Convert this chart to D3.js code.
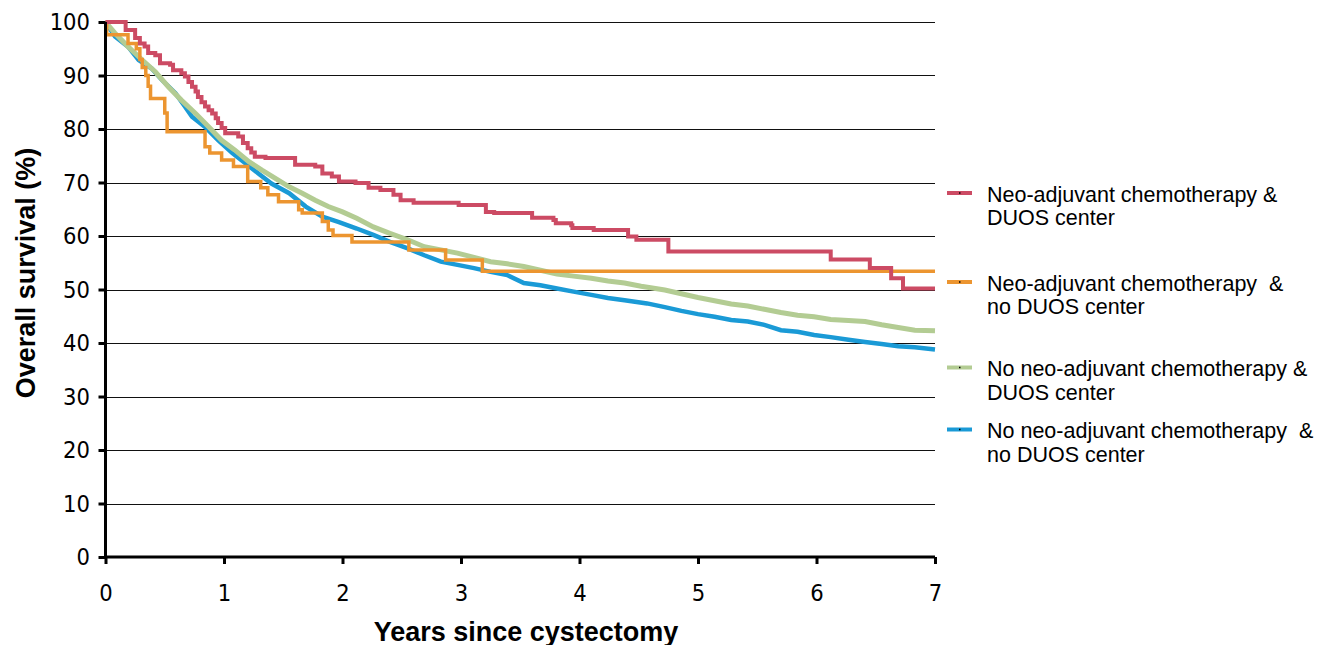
<!DOCTYPE html>
<html>
<head>
<meta charset="utf-8">
<script src="https://cdn.jsdelivr.net/npm/d3@7"></script>
<style>
  body { margin: 0; background: #fff; }
  svg { display: block; }
</style>
</head>
<body>
<svg id="chart" width="1330" height="645"></svg>
<script>
// ---- data ----
const years = [0, 1, 2, 3, 4, 5, 6, 7];
const survivalTicks = [0, 10, 20, 30, 40, 50, 60, 70, 80, 90, 100];

const seriesNames = [
    ["Neo-adjuvant chemotherapy &", "DUOS center"],
    ["Neo-adjuvant chemotherapy  &", "no DUOS center"],
    ["No neo-adjuvant chemotherapy &", "DUOS center"],
    ["No neo-adjuvant chemotherapy  &", "no DUOS center"]
];
const seriesColors = ["#cc4b64", "#ec9530", "#b3cc93", "#1a9ad6"];

// [years, survival %]
const neoDuos = [
    [0, 100], [0.17, 98.5], [0.25, 97], [0.29, 96], [0.33, 95.4], [0.36, 94.2],
    [0.42, 93.8], [0.46, 92.3], [0.545, 92], [0.57, 91], [0.64, 90.4], [0.67, 89.8],
    [0.7, 88.8], [0.73, 87.9], [0.76, 87], [0.78, 86], [0.81, 85], [0.84, 84.2],
    [0.87, 83.5], [0.9, 82.9], [0.93, 82], [0.95, 81.1], [0.98, 80.2], [1.01, 79.2],
    [1.12, 78.6], [1.16, 77.4], [1.2, 76.4], [1.23, 75.6], [1.26, 74.8], [1.35, 74.6],
    [1.6, 73.3], [1.77, 73], [1.83, 71.7], [1.91, 71.1], [1.97, 70.2], [2.11, 69.9],
    [2.22, 69], [2.32, 68.6], [2.43, 67.7], [2.49, 66.7], [2.6, 66.2], [2.98, 65.8],
    [3.21, 64.5], [3.28, 64.3], [3.6, 63.4], [3.78, 63], [3.8, 62.4], [3.93, 62],
    [3.94, 61.5], [4.12, 61.1], [4.41, 59.9], [4.48, 59.3], [4.75, 57.1], [6.12, 55.6],
    [6.45, 54], [6.63, 52.1], [6.73, 50.2], [7, 50.2]
];

const neoNoDuos = [
    [0, 100], [0.01, 97.6], [0.19, 96], [0.26, 95], [0.29, 93], [0.31, 91.5],
    [0.34, 90], [0.36, 88], [0.38, 85.7], [0.5, 83], [0.52, 79.5], [0.84, 76.7],
    [0.88, 75.5], [0.98, 74.2], [1.08, 73], [1.2, 70.2], [1.31, 69], [1.37, 67.7],
    [1.46, 66.4], [1.63, 64.9], [1.66, 64.3], [1.83, 62.7], [1.88, 61.1], [1.92, 60.1],
    [2.08, 58.9], [2.56, 57.4], [2.87, 55.5], [3.18, 53.4], [7, 53.4]
];

const noNeoDuos = [
    [0, 100], [0.08, 97.9], [0.19, 95.4], [0.31, 92.9], [0.42, 90.7], [0.53, 87.9],
    [0.64, 85.4], [0.76, 82.9], [0.87, 80.4], [0.98, 77.9], [1.09, 76.1], [1.21, 73.9],
    [1.32, 72.3], [1.43, 70.8], [1.55, 69.2], [1.66, 68], [1.77, 66.7], [1.88, 65.5],
    [2.0, 64.5], [2.12, 63.3], [2.26, 61.7], [2.4, 60.5], [2.55, 59.3], [2.69, 58],
    [2.83, 57.4], [2.97, 56.8], [3.11, 56], [3.25, 55.2], [3.39, 54.8], [3.53, 54.3],
    [3.67, 53.6], [3.81, 52.9], [3.95, 52.5], [4.1, 52.1], [4.24, 51.6], [4.38, 51.2],
    [4.52, 50.6], [4.72, 49.9], [4.86, 49.2], [5.0, 48.5], [5.14, 47.9], [5.28, 47.3],
    [5.42, 46.9], [5.56, 46.3], [5.7, 45.7], [5.84, 45.2], [5.98, 44.9], [6.12, 44.4],
    [6.27, 44.2], [6.41, 44], [6.55, 43.4], [6.69, 42.9], [6.83, 42.4], [7.0, 42.3]
];

const noNeoNoDuos = [
    [0, 100], [0.08, 97.3], [0.19, 95.4], [0.28, 92.9], [0.39, 91.3], [0.475, 89.2],
    [0.59, 86.7], [0.67, 84.2], [0.73, 82.3], [0.84, 80.4], [0.95, 77.9], [1.07, 75.5],
    [1.18, 73.6], [1.29, 71.7], [1.4, 69.8], [1.55, 68], [1.69, 65.5], [1.83, 63.6],
    [1.97, 62.6], [2.12, 61.4], [2.26, 60.2], [2.4, 58.9], [2.55, 57.7], [2.69, 56.4],
    [2.83, 55.2], [2.97, 54.6], [3.11, 54], [3.25, 53.3], [3.39, 52.7], [3.53, 51.2],
    [3.67, 50.8], [3.81, 50.2], [3.95, 49.6], [4.1, 49], [4.24, 48.4], [4.38, 48],
    [4.57, 47.4], [4.72, 46.7], [4.86, 46], [5.0, 45.4], [5.14, 44.9], [5.28, 44.3],
    [5.42, 44], [5.56, 43.4], [5.7, 42.4], [5.84, 42.1], [5.98, 41.5], [6.12, 41.1],
    [6.27, 40.6], [6.41, 40.2], [6.55, 39.8], [6.69, 39.4], [6.83, 39.2], [7.0, 38.8]
];

const allSeries = [neoDuos, neoNoDuos, noNeoDuos, noNeoNoDuos];
const stepped = [true, true, false, false];
const lineWidths = [4, 3.5, 5, 4.5];
// draw order: blue underneath, then green, orange, red
const drawOrder = [3, 2, 1, 0];

// ---- layout ----
const svg = d3.select('#chart');
const plotLeft = 105.5, plotRight = 935, plotTop = 22, plotBottom = 557;
const tickFont = '"DejaVu Sans Condensed", "DejaVu Sans", sans-serif';
const titleFont = '"Liberation Sans", Arial, sans-serif';

const x = d3.scaleLinear().domain([0, 7]).range([plotLeft, plotRight]);
const y = d3.scaleLinear().domain([0, 100]).range([plotBottom, plotTop]);

// gridlines
svg.append('g')
    .selectAll('line')
    .data(survivalTicks.filter(d => d > 0))
    .enter()
    .append('line')
    .attr('x1', plotLeft)
    .attr('x2', plotRight)
    .attr('y1', d => Math.round(y(d)) + 0.5)
    .attr('y2', d => Math.round(y(d)) + 0.5)
    .style('stroke', '#111')
    .style('stroke-width', 1);

// curves
const lineFor = i => d3.line()
    .x(d => x(d[0]))
    .y(d => y(d[1]))
    .curve(stepped[i] ? d3.curveStepAfter : d3.curveLinear);

svg.append('g')
    .selectAll('path')
    .data(drawOrder)
    .enter()
    .append('path')
    .attr('d', i => lineFor(i)(allSeries[i]))
    .style('fill', 'none')
    .style('stroke', i => seriesColors[i])
    .style('stroke-width', i => lineWidths[i])
    .style('stroke-linejoin', 'miter');

// axes
const yAxis = svg.append('g')
    .attr('transform', 'translate(' + plotLeft + ',0)')
    .call(d3.axisLeft(y).tickValues(survivalTicks).tickSize(7).tickPadding(8.5).tickFormat(d3.format('d')));

const xAxis = svg.append('g')
    .attr('transform', 'translate(0,' + plotBottom + ')')
    .call(d3.axisBottom(x).tickValues(years).tickSize(7).tickPadding(20).tickFormat(d3.format('d')));

[yAxis, xAxis].forEach(ax => {
    ax.attr('font-family', null).attr('font-size', null);
    ax.select('.domain').style('stroke', '#000').style('stroke-width', 3);
    ax.selectAll('.tick line').style('stroke', '#000').style('stroke-width', 3);
    ax.selectAll('text')
        .style('font-family', tickFont)
        .style('font-size', '23.5px')
        .style('fill', '#000');
});
xAxis.select('.domain').attr('d', 'M' + (plotLeft - 1.5) + ',0H' + plotRight);
yAxis.select('.domain').attr('d', 'M0,' + plotTop + 'V' + (plotBottom + 1.5));

// axis titles
svg.append('text')
    .attr('transform', 'translate(35,273) rotate(-90)')
    .attr('text-anchor', 'middle')
    .style('font-family', titleFont)
    .style('font-weight', 'bold')
    .style('font-size', '27px')
    .text('Overall survival (%)');

svg.append('text')
    .attr('x', 526)
    .attr('y', 640.5)
    .attr('text-anchor', 'middle')
    .style('font-family', titleFont)
    .style('font-weight', 'bold')
    .style('font-size', '27px')
    .text('Years since cystectomy');

// legend
const legendY = [193, 282, 367.5, 429.5];
const legend = svg.append('g')
    .selectAll('g')
    .data(seriesNames)
    .enter()
    .append('g')
    .attr('transform', (d, i) => 'translate(947,' + legendY[i] + ')');

legend.append('line')
    .attr('x1', 0).attr('x2', 25)
    .style('stroke', (d, i) => seriesColors[i])
    .style('stroke-width', 4);

legend.append('rect')
    .attr('x', 12).attr('y', -0.75)
    .attr('width', 1.5).attr('height', 1.5)
    .style('fill', '#000');

legend.append('text')
    .attr('x', 40)
    .attr('y', 8.5)
    .style('font-family', '"Liberation Sans", Arial, sans-serif')
    .style('font-size', '21.5px')
    .style('white-space', 'pre')
    .style('fill', '#000')
    .selectAll('tspan')
    .data(d => d)
    .enter()
    .append('tspan')
    .attr('x', 40)
    .attr('dy', (d, j) => j === 0 ? 0 : 23.5)
    .text(d => d);
</script>
</body>
</html>
